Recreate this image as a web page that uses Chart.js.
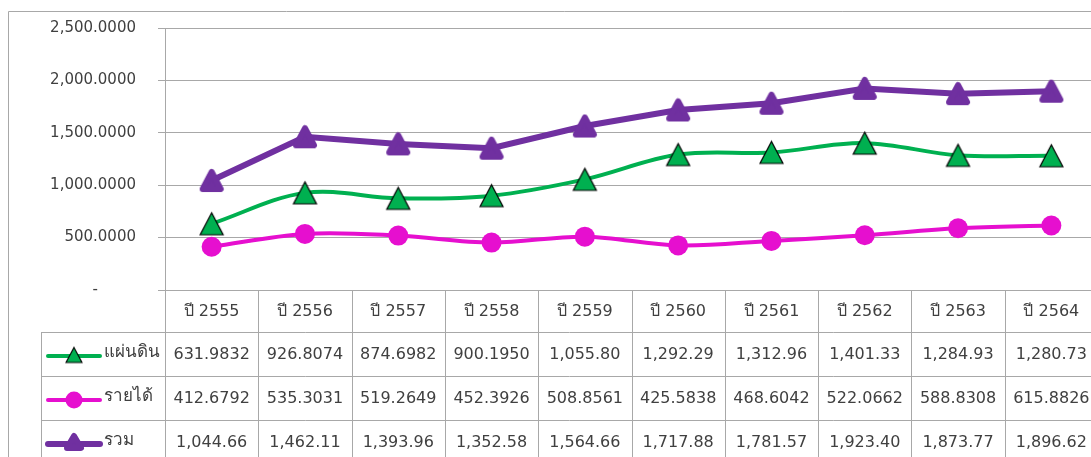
<!DOCTYPE html>
<html>
<head>
<meta charset="utf-8">
<script src="https://cdn.jsdelivr.net/npm/chart.js@4/dist/chart.umd.min.js"></script>
<style>
    html, body { margin: 0; padding: 0; background: #fff; overflow: hidden; }
    #wrap { position: relative; width: 1120px; height: 457px; }
</style>
</head>
<body>
<div id="wrap"><canvas id="chart" width="1120" height="457"></canvas></div>
<script>
const years = ['ปี 2555', 'ปี 2556', 'ปี 2557', 'ปี 2558', 'ปี 2559', 'ปี 2560', 'ปี 2561', 'ปี 2562', 'ปี 2563', 'ปี 2564'];
const landValues = [631.9832, 926.8074, 874.6982, 900.1950, 1055.80, 1292.29, 1312.96, 1401.33, 1284.93, 1280.73];
const incomeValues = [412.6792, 535.3031, 519.2649, 452.3926, 508.8561, 425.5838, 468.6042, 522.0662, 588.8308, 615.8826];
const totalValues = [1044.66, 1462.11, 1393.96, 1352.58, 1564.66, 1717.88, 1781.57, 1923.40, 1873.77, 1896.62];
const seriesNames = ['แผ่นดิน', 'รายได้', 'รวม'];
const yMin = 0, yMax = 2500, yStep = 500;

const FONT = 'Tahoma, "DejaVu Sans", "Noto Sans", sans-serif';
const GREEN = '#00b050', PINK = '#e60fcf', PURPLE = '#7030a0';
const GRID = '#a8a8a8', TEXT = '#404040';

function cellText(v) {
    if (v >= 1000) return v.toLocaleString('en-US', { minimumFractionDigits: 2, maximumFractionDigits: 2 });
    return v.toFixed(4);
}

// marker images, centred on the point like Excel does
function triangleImage(w, h, fill, stroke, lw, round) {
    const c = document.createElement('canvas');
    const pad = Math.ceil(lw / 2) + 1;
    c.width = w + pad * 2;
    c.height = h + pad * 2;
    const g = c.getContext('2d');
    g.lineJoin = round ? 'round' : 'miter';
    g.beginPath();
    g.moveTo(pad + w / 2, pad);
    g.lineTo(pad + w, pad + h);
    g.lineTo(pad, pad + h);
    g.closePath();
    g.fillStyle = fill;
    g.fill();
    g.strokeStyle = stroke;
    g.lineWidth = lw;
    g.stroke();
    return c;
}

const greenTri = triangleImage(23, 22, GREEN, '#000', 1.2, false);
const purpleTri = triangleImage(18, 17, PURPLE, PURPLE, 6, true);
const greenTriSmall = triangleImage(16, 15, GREEN, '#000', 1.1, false);
const purpleTriSmall = triangleImage(14, 12, PURPLE, PURPLE, 6, true);

const tablePlugin = {
    id: 'dataTable',
    afterDraw(chart) {
        const ctx = chart.ctx;
        const xs = chart.scales.x;
        const half = (xs.getPixelForValue(1) - xs.getPixelForValue(0)) / 2;
        const rows = [290, 332, 376, 420, 464];
        const legendLeft = 41;
        const right = xs.getPixelForValue(years.length - 1) + half;

        ctx.save();
        ctx.strokeStyle = GRID;
        ctx.lineWidth = 1;
        ctx.beginPath();
        ctx.moveTo(8.5, 457); ctx.lineTo(8.5, 11.5); ctx.lineTo(1120, 11.5);
        for (let r = 1; r < rows.length; r++) {
            ctx.moveTo(legendLeft, rows[r] + 0.5); ctx.lineTo(right, rows[r] + 0.5);
        }
        ctx.moveTo(legendLeft + 0.5, rows[1]); ctx.lineTo(legendLeft + 0.5, 457);
        for (let i = 0; i <= years.length; i++) {
            const cx = Math.round(xs.getPixelForValue(i) - half) + 0.5;
            ctx.moveTo(cx, rows[0]); ctx.lineTo(cx, 457);
        }
        ctx.stroke();

        ctx.fillStyle = TEXT;
        ctx.font = '16px ' + FONT;
        ctx.textAlign = 'center';
        ctx.textBaseline = 'middle';
        years.forEach((y, i) => {
            ctx.fillText(y, xs.getPixelForValue(i), (rows[0] + rows[1]) / 2 + 1);
        });

        const series = [landValues, incomeValues, totalValues];
        const colors = [GREEN, PINK, PURPLE];
        series.forEach((vals, r) => {
            const cy = (rows[r + 1] + rows[r + 2]) / 2 + 1;
            ctx.font = '16px ' + FONT;
            ctx.fillStyle = TEXT;
            ctx.textAlign = 'center';
            vals.forEach((v, i) => {
                ctx.fillText(cellText(v), xs.getPixelForValue(i), cy);
            });
            // legend key
            ctx.save();
            ctx.strokeStyle = colors[r];
            ctx.lineCap = 'round';
            ctx.lineWidth = r === 2 ? 6 : 4;
            ctx.beginPath();
            ctx.moveTo(48, cy + 1); ctx.lineTo(100, cy + 1);
            ctx.stroke();
            ctx.restore();
            if (r === 0) {
                ctx.drawImage(greenTriSmall, 74 - greenTriSmall.width / 2, cy - greenTriSmall.height / 2);
            } else if (r === 1) {
                ctx.beginPath();
                ctx.arc(74, cy + 1, 8.5, 0, Math.PI * 2);
                ctx.fillStyle = PINK;
                ctx.fill();
            } else {
                ctx.drawImage(purpleTriSmall, 74 - purpleTriSmall.width / 2, cy - purpleTriSmall.height / 2 - 1);
            }
            ctx.font = '17px ' + FONT;
            ctx.fillStyle = TEXT;
            ctx.textAlign = 'left';
            ctx.fillText(seriesNames[r], 104, cy - 2);
        });
        ctx.restore();
    }
};

new Chart(document.getElementById('chart'), {
    type: 'line',
    data: {
        labels: years,
        datasets: [
            {
                label: seriesNames[0],
                data: landValues,
                borderColor: GREEN,
                borderWidth: 4,
                tension: 0.35,
                pointStyle: greenTri,
                pointRadius: 12
            },
            {
                label: seriesNames[1],
                data: incomeValues,
                borderColor: PINK,
                borderWidth: 4,
                tension: 0.35,
                pointStyle: 'circle',
                pointRadius: 10,
                pointBackgroundColor: PINK,
                pointBorderColor: PINK,
                pointBorderWidth: 0
            },
            {
                label: seriesNames[2],
                data: totalValues,
                borderColor: PURPLE,
                borderWidth: 6,
                tension: 0,
                pointStyle: purpleTri,
                pointRadius: 12
            }
        ]
    },
    options: {
        responsive: false,
        animation: false,
        layout: { padding: { left: 0, top: 28, right: 22, bottom: 0 } },
        plugins: {
            legend: { display: false },
            tooltip: { enabled: false }
        },
        scales: {
            x: {
                offset: true,
                grid: { display: false, drawTicks: false },
                border: { display: true, color: GRID, width: 1 },
                ticks: { display: false },
                afterFit: s => { s.height = 167; }
            },
            y: {
                min: yMin,
                max: yMax,
                ticks: {
                    stepSize: yStep,
                    padding: 22,
                    color: TEXT,
                    font: { family: FONT, size: 15 },
                    callback: v => v === 0 ? '-\u2007\u2007\u2007\u2007' : v.toLocaleString('en-US', { minimumFractionDigits: 4 })
                },
                grid: { color: GRID, lineWidth: 1, tickLength: 7 },
                border: { display: true, color: GRID, width: 1 },
                afterFit: s => {
                    s.width = 165;
                    s.paddingTop = 0;
                    s.paddingBottom = 0;
                }
            }
        }
    },
    plugins: [tablePlugin]
});
</script>
</body>
</html>
